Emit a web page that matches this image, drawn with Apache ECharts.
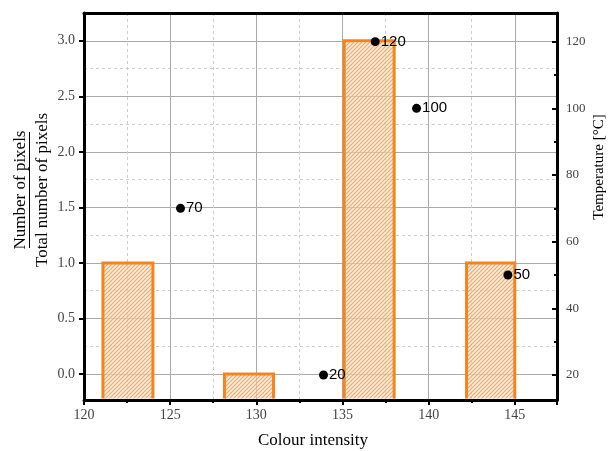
<!DOCTYPE html>
<html>
<head>
<meta charset="utf-8">
<script src="https://cdn.jsdelivr.net/npm/echarts@6/dist/echarts.min.js"></script>
<style>
  html, body { margin: 0; padding: 0; background: #fff; }
  #chart { width: 611px; height: 451px; }
</style>
</head>
<body>
<div id="chart"></div>
<script>
// Histogram bins of colour intensity and their pixel counts
const binStart = [121.1, 128.15, 135.1, 142.2];
const binEnd   = [124.0, 131.0, 138.0, 145.0];
const counts   = [1, 0, 3, 1];

// Temperature markers placed over the histogram
const pointX = [125.6, 133.9, 136.9, 139.3, 144.6];
const temps  = [70, 20, 120, 100, 50];

// Tick values
const leftTicks = [0, 0.5, 1.0, 1.5, 2.0, 2.5, 3.0];
const leftMinor = [0.25, 0.75, 1.25, 1.75, 2.25, 2.75];
const rightTicks = [20, 40, 60, 80, 100, 120];
const rightMinor = [30, 50, 70, 90, 110];

const X_MIN = 120, X_MAX = 147.45;
const L_MIN = -0.234, L_MAX = 3.25;
const R_MIN = 12.5, R_MAX = 128.6;

// Diagonal hatch used to fill the bars
function hatch() {
  const s = 4;
  const c = document.createElement('canvas');
  c.width = s; c.height = s;
  const g = c.getContext('2d');
  g.fillStyle = 'rgba(248,224,192,0.65)';
  g.fillRect(0, 0, s, s);
  g.strokeStyle = 'rgba(218,162,104,0.85)';
  g.lineWidth = 1.1;
  g.beginPath();
  g.moveTo(0, s); g.lineTo(s, 0);
  g.moveTo(-1, 1); g.lineTo(1, -1);
  g.moveTo(s - 1, s + 1); g.lineTo(s + 1, s - 1);
  g.stroke();
  return c;
}
const hatchImg = hatch();

const serif = '"Liberation Serif", "Times New Roman", serif';
const sans = '"Liberation Sans", Arial, sans-serif';
const ORANGE = '#f5841f';
const TICK_FONT = 14;
const TITLE_FONT = '17px ' + serif;

const chart = echarts.init(document.getElementById('chart'), null, { renderer: 'canvas' });

const barData = counts.map((c, i) => [binStart[i], binEnd[i], c]);
const pointData = temps.map((t, i) => [pointX[i], t]);

chart.setOption({
  animation: false,
  backgroundColor: '#fff',
  grid: { left: 84, right: 54, top: 13, bottom: 51, containLabel: false },
  xAxis: [{
    type: 'value', min: X_MIN, max: X_MAX, interval: 5,
    axisLine: { show: true, onZero: false, lineStyle: { color: '#000', width: 3 } },
    axisTick: { show: true, length: 5, lineStyle: { color: '#000', width: 2 } },
    minorTick: { show: true, splitNumber: 2, length: 3, lineStyle: { color: '#000', width: 2 } },
    axisLabel: { color: '#444', fontFamily: serif, fontSize: TICK_FONT, margin: 8, showMaxLabel: false },
    splitLine: { show: true, lineStyle: { color: '#aaa', width: 1 } },
    minorSplitLine: { show: true, lineStyle: { color: '#ccc', width: 1, type: [3, 3] } }
  }, {
    type: 'value', position: 'top', min: X_MIN, max: X_MAX,
    axisLine: { show: true, onZero: false, lineStyle: { color: '#000', width: 3 } },
    axisTick: { show: false }, axisLabel: { show: false }, splitLine: { show: false }
  }],
  yAxis: [{
    type: 'value', position: 'left', min: L_MIN, max: L_MAX,
    axisLine: { show: true, onZero: false, lineStyle: { color: '#000', width: 3 } },
    axisTick: { show: true, length: 5, customValues: leftTicks, lineStyle: { color: '#000', width: 2 } },
    axisLabel: { customValues: leftTicks, color: '#444', fontFamily: serif, fontSize: TICK_FONT, margin: 9,
      formatter: v => v.toFixed(1) },
    splitLine: { show: true, lineStyle: { color: '#aaa', width: 1 } }
  }, {
    type: 'value', position: 'right', min: R_MIN, max: R_MAX,
    axisLine: { show: true, onZero: false, lineStyle: { color: '#000', width: 3 } },
    axisTick: { show: true, inside: true, length: 5, customValues: rightTicks, lineStyle: { color: '#000', width: 2 } },
    axisLabel: { customValues: rightTicks, color: '#444', fontFamily: serif, fontSize: 13, margin: 9 },
    splitLine: { show: false }
  }, {
    // minor gridlines of the count axis
    type: 'value', position: 'left', min: L_MIN, max: L_MAX,
    axisLine: { show: false },
    axisTick: { show: true, inside: true, length: 2, customValues: leftMinor, lineStyle: { color: '#000', width: 2 } },
    axisLabel: { show: false },
    splitLine: { show: true, lineStyle: { color: '#ccc', width: 1, type: [3, 3] } }
  }, {
    // minor ticks of the temperature axis
    type: 'value', position: 'right', min: R_MIN, max: R_MAX,
    axisLine: { show: false },
    axisTick: { show: true, inside: true, length: 3, customValues: rightMinor, lineStyle: { color: '#000', width: 2 } },
    axisLabel: { show: false },
    splitLine: { show: false }
  }],
  series: [{
    type: 'custom',
    xAxisIndex: 0, yAxisIndex: 0,
    data: barData,
    clip: false,
    renderItem: function (params, api) {
      const x0 = api.value(0), x1 = api.value(1), v = api.value(2);
      const pTop = api.coord([x0, v]);
      const pEnd = api.coord([x1, L_MIN]);
      const left = pTop[0], right = pEnd[0], top = pTop[1], bottom = pEnd[1] - 1.5;
      return {
        type: 'group',
        children: [{
          type: 'rect',
          shape: { x: left, y: top, width: right - left, height: bottom - top },
          style: { fill: { image: hatchImg, repeat: 'repeat' }, stroke: null }
        }, {
          type: 'polyline',
          shape: { points: [[left, bottom], [left, top], [right, top], [right, bottom]] },
          style: { fill: null, stroke: ORANGE, lineWidth: 3, lineJoin: 'miter' }
        }]
      };
    }
  }, {
    type: 'scatter',
    xAxisIndex: 0, yAxisIndex: 1,
    data: pointData,
    symbol: 'circle', symbolSize: 9,
    itemStyle: { color: '#000', opacity: 1 },
    z: 5,
    label: {
      show: true, position: 'right', distance: 1,
      formatter: p => String(p.value[1]),
      color: '#000', fontFamily: sans, fontSize: 15
    }
  }],
  graphic: [{
    type: 'text', x: 313, y: 441,
    style: { text: 'Colour intensity', font: TITLE_FONT, fill: '#000',
      align: 'center', verticalAlign: 'middle' }
  }, {
    type: 'text', x: 599, y: 167, rotation: Math.PI / 2,
    style: { text: 'Temperature [°C]', font: '15px ' + serif, fill: '#000',
      align: 'center', verticalAlign: 'middle' }
  }, {
    type: 'text', x: 21, y: 190, rotation: Math.PI / 2,
    style: { text: 'Number of pixels', font: TITLE_FONT, fill: '#000',
      align: 'center', verticalAlign: 'middle' }
  }, {
    type: 'line',
    shape: { x1: 29.5, y1: 132, x2: 29.5, y2: 248 },
    style: { stroke: '#000', lineWidth: 1 }
  }, {
    type: 'text', x: 43, y: 190, rotation: Math.PI / 2,
    style: { text: 'Total number of pixels', font: TITLE_FONT, fill: '#000',
      align: 'center', verticalAlign: 'middle' }
  }]
});
</script>
</body>
</html>
